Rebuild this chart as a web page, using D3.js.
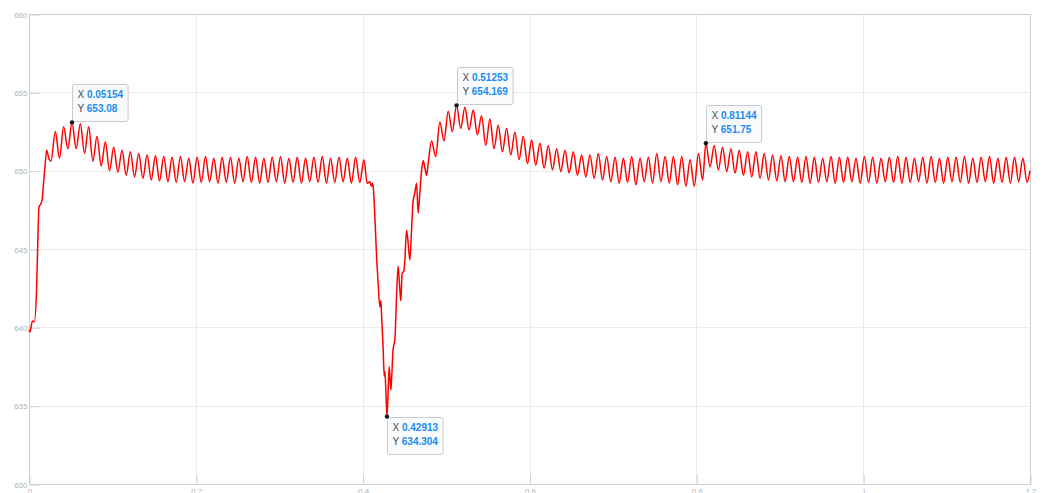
<!DOCTYPE html>
<html>
<head>
<meta charset="utf-8">
<script src="https://cdn.jsdelivr.net/npm/d3@7"></script>
<style>
  html, body { margin: 0; padding: 0; background: #fff; }
  svg { display: block; }
  .tick text { font-family: "Liberation Sans", Arial, sans-serif; }
</style>
</head>
<body>
<svg id="chart" width="1045" height="493"></svg>
<script>
// ---- axis ticks ----
const xTicks = [0, 0.2, 0.4, 0.6, 0.8, 1, 1.2];
const yTicks = [630, 635, 640, 645, 650, 655, 660];

// ---- start-up transient: [time (s), value] ----
const startupPoints = [
  [0, 639.85], [0.0012, 639.7], [0.004, 640.4], [0.0064, 640.35],
  [0.0092, 642.6], [0.0104, 645.15], [0.012, 647.7], [0.0144, 647.9],
  [0.0159, 648.2], [0.0171, 649.0], [0.0192, 650.3], [0.0212, 651.3],
  [0.024, 650.75], [0.0264, 650.6]
];

// ---- first ripple stretch: one peak per cycle (10 ms), starting at t = 0.03154 ----
const ripple1Start = 0.03154;
const ripple1Peaks = [
  652.5, 652.8, 653.08, 653.0, 652.8, 652.2, 651.85, 651.5, 651.3, 651.2,
  651.1, 651.0, 650.95, 650.9, 650.85, 650.9, 650.8, 650.85, 650.9, 650.8,
  650.85, 650.85, 650.8, 650.9, 650.85, 650.8, 650.85, 650.9, 650.8, 650.85,
  650.8, 650.85, 650.9, 650.8, 650.85, 650.8, 650.85, 650.7
];
const ripple1Troughs = [
  650.8, 651.4, 651.4, 651.1, 650.6, 650.3, 650.0, 649.9, 649.7, 649.6,
  649.5, 649.4, 649.35, 649.3, 649.25, 649.3, 649.2, 649.25, 649.3, 649.2,
  649.25, 649.2, 649.3, 649.25, 649.2, 649.25, 649.3, 649.2, 649.25, 649.2,
  649.3, 649.25, 649.2, 649.25, 649.3, 649.2, 649.25
];

// ---- load-step dip: [time (s), value] ----
const dipPoints = [
  [0.4054, 649.2], [0.4087, 649.3], [0.4104, 649.0], [0.4116, 649.2],
  [0.4126, 649.0], [0.4146, 647.1], [0.4167, 644.5], [0.4186, 642.8],
  [0.4206, 641.3], [0.4218, 641.7], [0.4226, 640.9], [0.4246, 638.6],
  [0.4258, 636.9], [0.4266, 637.2], [0.4278, 636.0], [0.42913, 634.304],
  [0.4306, 636.0], [0.4318, 637.5], [0.4338, 636.0], [0.4346, 636.6],
  [0.4365, 638.6], [0.4386, 639.2], [0.4406, 641.95], [0.4425, 643.9],
  [0.4446, 642.4], [0.4458, 641.7], [0.4473, 643.45], [0.4494, 643.6],
  [0.4506, 644.3], [0.4526, 646.2], [0.4545, 645.4], [0.4566, 644.3],
  [0.4586, 646.2], [0.4605, 648.1], [0.4625, 648.55], [0.4646, 649.2],
  [0.4665, 647.3], [0.4685, 648.55], [0.4706, 650.0], [0.4725, 650.65],
  [0.4745, 650.2], [0.4766, 649.7], [0.4785, 650.45]
];

// ---- recovery ripple: one peak per cycle, starting at t = 0.48253 ----
const ripple2Start = 0.48253;
const ripple2Peaks = [
  651.9, 653.1, 653.8, 654.169, 654.05, 653.87, 653.5, 653.3, 652.9, 652.7,
  652.45, 652.2, 651.95, 651.75, 651.6, 651.4, 651.3, 651.2, 651.0, 651.0,
  651.1, 650.9, 650.85, 650.8, 650.9, 650.8, 650.85, 651.1, 650.9, 650.9,
  650.9, 650.7, 651.1
];
const ripple2Troughs = [
  650.9, 651.9, 652.5, 652.7, 652.6, 652.3, 651.6, 651.4, 651.2, 651.0,
  650.7, 650.45, 650.35, 650.15, 650.05, 649.95, 649.85, 649.7, 649.6, 649.5,
  649.4, 649.3, 649.2, 649.25, 649.1, 649.3, 649.2, 649.3, 649.2, 649.1,
  649.0, 649.0, 649.4
];

// ---- final ripple stretch: one peak per cycle, starting at t = 0.81144 ----
const ripple3Start = 0.81144;
const ripple3Peaks = [
  651.75, 651.6, 651.5, 651.4, 651.3, 651.2, 651.2, 651.1, 651.0, 650.95,
  650.9, 650.85, 650.9, 650.85, 650.8, 650.9, 650.85, 650.85, 650.8, 650.9,
  650.85, 650.8, 650.85, 650.9, 650.85, 650.8, 650.85, 650.9, 650.8, 650.85,
  650.85, 650.9, 650.8, 650.85, 650.9, 650.8, 650.85, 650.85, 650.8
];
const ripple3Troughs = [
  650.25, 650.05, 649.95, 649.85, 649.7, 649.6, 649.5, 649.4, 649.35, 649.3,
  649.3, 649.25, 649.2, 649.25, 649.3, 649.2, 649.25, 649.3, 649.2, 649.25,
  649.2, 649.3, 649.25, 649.2, 649.25, 649.3, 649.2, 649.25, 649.2, 649.3,
  649.25, 649.2, 649.25, 649.3, 649.2, 649.25, 649.2, 649.3, 649.25
];
const endPoint = [1.2, 650.0];

// ---- data tips ----
const tipX = [0.05154, 0.42913, 0.51253, 0.81144];
const tipY = [653.08, 634.304, 654.169, 651.75];

// ---- assemble the trace ----
const cycle = 0.01;   // ripple period (s)
function rippleSegment(t0, peaks, troughs) {
  const pts = [];
  peaks.forEach((p, k) => {
    const t = t0 + k * cycle;
    pts.push([t, p]);
    if (k < troughs.length) pts.push([t + cycle / 2, troughs[k]]);
  });
  return pts;
}
const trace = [].concat(
  startupPoints,
  rippleSegment(ripple1Start, ripple1Peaks, ripple1Troughs),
  dipPoints,
  rippleSegment(ripple2Start, ripple2Peaks, ripple2Troughs),
  rippleSegment(ripple3Start, ripple3Peaks, ripple3Troughs),
  [endPoint]
);

// ---- layout ----
const plotLeft = 29, plotRight = 1030, plotTop = 14, plotBottom = 484;
const svg = d3.select("#chart");
const x = d3.scaleLinear().domain([0, 1.2]).range([plotLeft, plotRight]);
const y = d3.scaleLinear().domain([630, 660]).range([plotBottom, plotTop]);

svg.append("rect").attr("width", 1045).attr("height", 493).attr("fill", "#fff");

// grid
const grid = svg.append("g").attr("stroke", "#ebebeb").attr("stroke-width", 1);
grid.selectAll(".gx").data(xTicks).join("line")
  .attr("x1", d => Math.round(x(d)) + 0.5).attr("x2", d => Math.round(x(d)) + 0.5)
  .attr("y1", plotTop).attr("y2", plotBottom);
grid.selectAll(".gy").data(yTicks).join("line")
  .attr("y1", d => Math.round(y(d)) + 0.5).attr("y2", d => Math.round(y(d)) + 0.5)
  .attr("x1", plotLeft).attr("x2", plotRight);

// axes with inward ticks
const yAxis = d3.axisLeft(y).tickValues(yTicks).tickSizeInner(-10).tickSizeOuter(0)
  .tickPadding(2).tickFormat(d => String(d));
const xAxis = d3.axisBottom(x).tickValues(xTicks).tickSizeInner(-10).tickSizeOuter(0)
  .tickPadding(4).tickFormat(d => String(d));

const gy = svg.append("g").attr("transform", `translate(${plotLeft + 0.5},0.5)`).call(yAxis);
const gx = svg.append("g").attr("transform", `translate(0.5,${plotBottom + 0.5})`).call(xAxis);
[gx, gy].forEach(g => {
  g.select(".domain").remove();
  g.selectAll(".tick line").attr("stroke", "#d2d2d2");
  g.selectAll(".tick text").attr("fill", "#b3b3b3").attr("font-size", 8);
});

// plot frame
svg.append("rect")
  .attr("x", plotLeft + 0.5).attr("y", plotTop + 0.5)
  .attr("width", plotRight - plotLeft).attr("height", plotBottom - plotTop)
  .attr("fill", "none").attr("stroke", "#d0d0d0").attr("stroke-width", 1);

// trace
svg.append("path")
  .datum(trace)
  .attr("fill", "none")
  .attr("stroke", "#ff0000")
  .attr("stroke-width", 1.5)
  .attr("stroke-linejoin", "round")
  .attr("d", d3.line().curve(d3.curveMonotoneX).x(d => x(d[0])).y(d => y(d[1])));

// data tips
const tips = tipX.map((v, i) => ({ tx: v, ty: tipY[i] }));
const lowest = d3.min(tipY);
const tipG = svg.append("g").attr("font-family", "Liberation Sans, Arial, sans-serif").attr("font-size", 10);
tips.forEach(d => {
  const px = x(d.tx), py = y(d.ty);
  const below = d.ty === lowest;
  const g = tipG.append("g");
  const box = g.append("rect").attr("fill", "#f9fafc").attr("stroke", "#c8cbd2")
    .attr("stroke-width", 1).attr("rx", 2);
  const lines = [["X", String(d.tx)], ["Y", String(d.ty)]];
  const texts = lines.map((ln, i) => {
    const t = g.append("text").attr("x", 0).attr("y", 14 + i * 14);
    t.append("tspan").attr("fill", "#4a4a4a").text(ln[0] + " ");
    t.append("tspan").attr("fill", "#1a8cf0").attr("font-weight", "bold").text(ln[1]);
    return t;
  });
  const w = d3.max(texts, t => t.node().getComputedTextLength()) + 10;
  const h = 37;
  box.attr("x", 0.5).attr("y", 0.5).attr("width", w).attr("height", h);
  texts.forEach(t => t.attr("x", 5.5));
  const bx = Math.round(px);
  const by = below ? Math.round(py) : Math.round(py) - h - 1;
  g.attr("transform", `translate(${bx},${by})`);
  tipG.append("circle").attr("cx", px).attr("cy", py).attr("r", 2.2).attr("fill", "#1a1a1a");
});
</script>
</body>
</html>
